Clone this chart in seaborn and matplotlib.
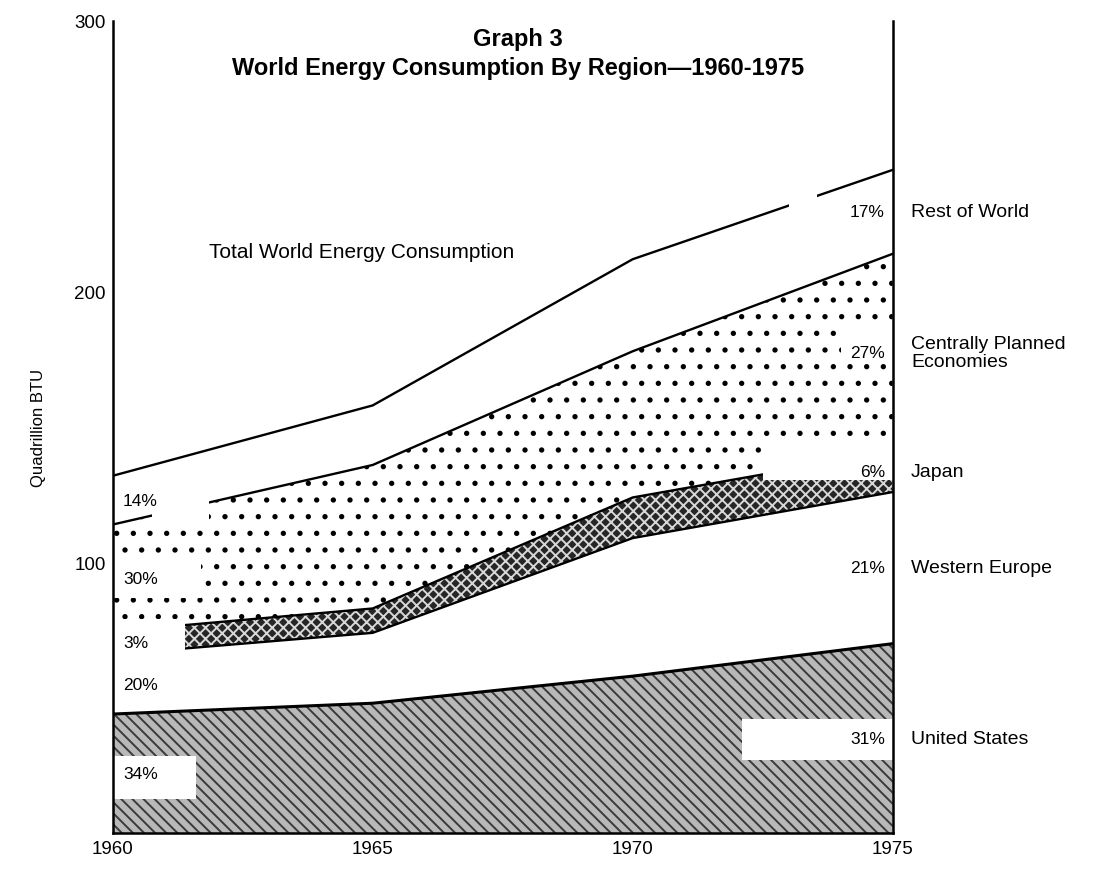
import numpy as np
import pandas as pd
import matplotlib.pyplot as plt
import seaborn as sns
from matplotlib.patches import Rectangle

# values (quadrillion BTU per region)
years = [1960, 1965, 1970, 1975]
united_states = [44, 48, 58, 70]
western_europe = [22, 26, 51, 56]
japan = [8.5, 9, 15, 15]
centrally_planned = [39.5, 53, 54, 73]
rest_of_world = [18, 22, 34, 31]

regions = ["United States", "Western Europe", "Japan",
           "Centrally Planned\nEconomies", "Rest of World"]
share_1960 = ["34%", "20%", "3%", "30%", "14%"]
share_1975 = ["31%", "21%", "6%", "27%", "17%"]

sns.set_style("white")
plt.rcParams['font.family'] = ['Liberation Sans', 'DejaVu Sans']
plt.rcParams['hatch.linewidth'] = 1.4
plt.rcParams['text.color'] = 'black'

df = pd.DataFrame({
    "United States": united_states,
    "Western Europe": western_europe,
    "Japan": japan,
    "Centrally Planned\nEconomies": centrally_planned,
    "Rest of World": rest_of_world,
}, index=years)
tops = df.cumsum(axis=1)
bottoms = tops.shift(1, axis=1).fillna(0)

fig = plt.figure(figsize=(10.94, 8.79), dpi=100)
ax = fig.add_axes([0.103, 0.051, 0.713, 0.924])

# textures: grey streaks for US, dark noise for Japan, dots for CPE
styles = {
    "United States": dict(facecolor="#b8b8b8", hatch="\\\\\\", edgecolor="#3a3a3a"),
    "Western Europe": dict(facecolor="white"),
    "Japan": dict(facecolor="#262626", hatch="xxx", edgecolor="#d8d8d8"),
    "Centrally Planned\nEconomies": dict(facecolor="white", hatch=".", edgecolor="black"),
    "Rest of World": dict(facecolor="white"),
}
for r in regions:
    ax.fill_between(years, bottoms[r], tops[r], linewidth=0, zorder=1, **styles[r])

for r in regions:
    lw = 2.2 if r == "United States" else 1.7
    sns.lineplot(x=years, y=tops[r].values, color="black", lw=lw, ax=ax, zorder=2)

# white cut-outs behind the share labels, as in the printed graph
cutouts = [
    (1960.0, 1961.4, 46, 79),
    (1960.0, 1961.7, 87, 100),
    (1960.0, 1961.6, 12.5, 28.5),
    (1960.75, 1961.85, 112, 125),
    (1972.1, 1975.0, 27, 42),
    (1972.5, 1975.0, 130.5, 146),
    (1974.0, 1975.0, 176.5, 188),
    (1973.0, 1973.55, 226, 241),
]
for x0, x1, y0, y1 in cutouts:
    ax.add_patch(Rectangle((x0, y0), x1 - x0, y1 - y0, facecolor="white",
                           edgecolor="none", zorder=2.5))

mid_1960 = (bottoms.loc[1960] + tops.loc[1960]) / 2
mid_1975 = (bottoms.loc[1975] + tops.loc[1975]) / 2
for r, s0, s1 in zip(regions, share_1960, share_1975):
    ax.text(1960.2, mid_1960[r], s0, fontsize=12.5, ha="left", va="center", zorder=3)
    ax.text(1974.85, mid_1975[r], s1, fontsize=12.5, ha="right", va="center", zorder=3)
    ax.text(1975.35, mid_1975[r], r, fontsize=14, ha="left", va="center",
            linespacing=1.05, clip_on=False)

ax.text(1961.85, 215, "Total World Energy Consumption", fontsize=15, va="center", zorder=3)
ax.text(0.52, 0.978, "Graph 3", transform=ax.transAxes, fontsize=17,
        fontweight="bold", ha="center", va="center")
ax.text(0.52, 0.943, "World Energy Consumption By Region\u20141960-1975",
        transform=ax.transAxes, fontsize=17, fontweight="bold", ha="center", va="center")

ax.set_xlim(1960, 1975)
ax.set_ylim(0, 300)
ax.set_xticks(years)
ax.set_xticklabels([str(y) for y in years])
ax.set_yticks([100, 200, 300])
ax.set_yticklabels(["100", "200", "300"])
ax.tick_params(axis="both", direction="in", length=7, width=1.5, labelsize=13.5,
               colors="black", pad=5)
ax.set_ylabel("Quadrillion BTU", fontsize=12, labelpad=20, color="black")
ax.set_xlabel("")
ax.spines["top"].set_visible(False)
for s in ["left", "right", "bottom"]:
    ax.spines[s].set_color("black")
    ax.spines[s].set_linewidth(1.8)

fig.savefig("out.png", dpi=100)
